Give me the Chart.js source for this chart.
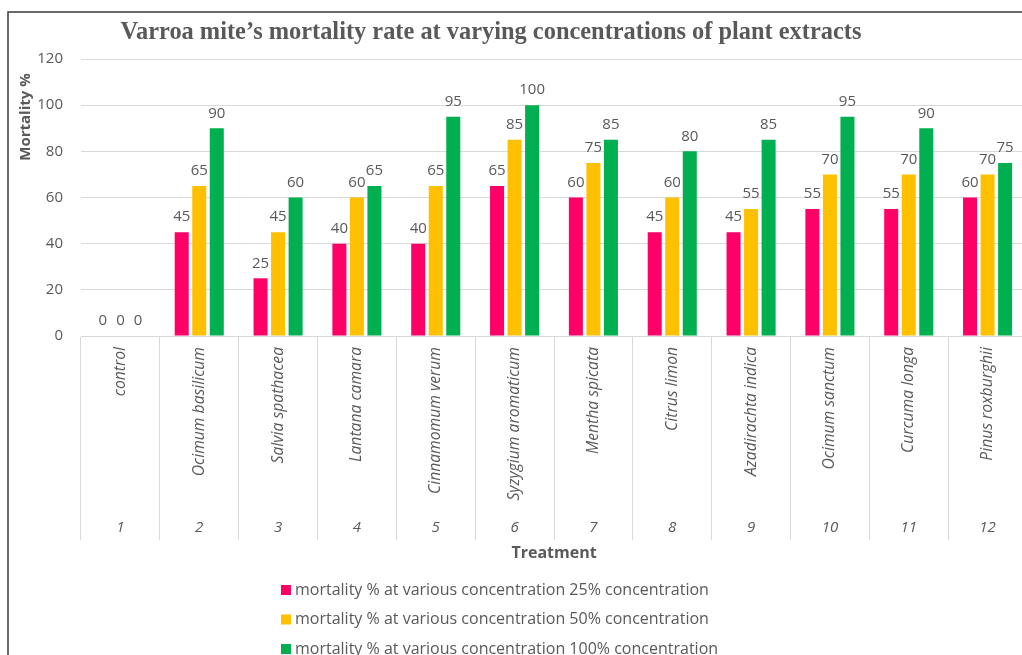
<!DOCTYPE html>
<html>
<head>
<meta charset="utf-8">
<script src="https://cdn.jsdelivr.net/npm/chart.js@4.4.1/dist/chart.umd.min.js"></script>
<style>
html,body{margin:0;padding:0;background:#fff;overflow:hidden;}
#wrap{position:relative;width:1027px;height:655px;}
canvas{display:block;}
</style>
</head>
<body>
<div id="wrap"><canvas id="c" width="1027" height="655" style="width:1027px;height:655px"></canvas></div>
<script>
const chartTitle = 'Varroa mite\u2019s mortality rate at varying concentrations of plant extracts';
const species = ['control','Ocimum basilicum','Salvia spathacea','Lantana camara','Cinnamomum verum','Syzygium aromaticum','Mentha spicata','Citrus limon','Azadirachta indica','Ocimum sanctum','Curcuma longa','Pinus roxburghii'];
const treatmentNumbers = ['1','2','3','4','5','6','7','8','9','10','11','12'];
const seriesNames = [
  'mortality % at various concentration 25% concentration',
  'mortality % at various concentration 50% concentration',
  'mortality % at various concentration 100% concentration'
];
const mortality25 = [0,45,25,40,40,65,60,45,45,55,55,60];
const mortality50 = [0,65,45,60,65,85,75,60,55,70,70,70];
const mortality100 = [0,90,60,65,95,100,85,80,85,95,90,75];
const seriesColors = ['#FF0066','#FFC000','#00B050'];
const yTitle = 'Mortality %';
const xTitle = 'Treatment';

const GRAY = '#595959';
const LINE = '#d9d9d9';
const FONT = '"Open Sans"';

const decorPlugin = {
  id: 'decor',
  beforeDraw(chart) {
    const ctx = chart.ctx;
    ctx.save();
    ctx.fillStyle = '#fff';
    ctx.fillRect(0, 0, chart.width, chart.height);
    ctx.strokeStyle = '#3a3a3a';
    ctx.lineWidth = 1.5;
    ctx.beginPath();
    ctx.moveTo(8, chart.height);
    ctx.lineTo(8, 12);
    ctx.lineTo(chart.width, 12);
    ctx.stroke();
    // chart title
    ctx.fillStyle = GRAY;
    ctx.font = 'bold 24.4px "Liberation Serif"';
    ctx.textAlign = 'center';
    ctx.textBaseline = 'middle';
    ctx.fillText(chartTitle, 491, 33);
    // y axis title
    ctx.save();
    ctx.translate(26, 117);
    ctx.rotate(-Math.PI / 2);
    ctx.font = 'bold 15px ' + FONT;
    ctx.fillText(yTitle, 0, 0);
    ctx.restore();
    ctx.restore();
  },
  afterDatasetsDraw(chart) {
    const ctx = chart.ctx;
    ctx.save();
    ctx.fillStyle = GRAY;
    ctx.font = '15px ' + FONT;
    ctx.textAlign = 'center';
    ctx.textBaseline = 'middle';
    chart.data.datasets.forEach((ds, di) => {
      const meta = chart.getDatasetMeta(di);
      meta.data.forEach((el, i) => {
        ctx.fillText(String(ds.data[i]), el.x, el.y - 15);
      });
    });
    ctx.restore();
  },
  afterDraw(chart) {
    const ctx = chart.ctx;
    ctx.save();
    ctx.font = '16px ' + FONT;
    ctx.textBaseline = 'middle';
    ctx.textAlign = 'left';
    chart.data.datasets.forEach((ds, di) => {
      const y = 590 + di * 29.5;
      ctx.fillStyle = ds.backgroundColor;
      ctx.fillRect(281, y - 5, 10, 10);
      ctx.fillStyle = GRAY;
      ctx.fillText(ds.label, 295, y);
    });
    ctx.restore();
  }
};

new Chart(document.getElementById('c'), {
  type: 'bar',
  data: {
    labels: species,
    datasets: [
      {label: seriesNames[0], data: mortality25, backgroundColor: seriesColors[0]},
      {label: seriesNames[1], data: mortality50, backgroundColor: seriesColors[1]},
      {label: seriesNames[2], data: mortality100, backgroundColor: seriesColors[2]}
    ]
  },
  options: {
    responsive: false,
    devicePixelRatio: 1,
    animation: false,
    categoryPercentage: 0.667,
    barPercentage: 0.8,
    layout: {padding: {left: 0, right: 0, top: 59, bottom: 80}},
    plugins: {legend: {display: false}, title: {display: false}, tooltip: {enabled: false}},
    scales: {
      x: {
        type: 'category',
        weight: 0,
        offset: true,
        grid: {display: true, drawOnChartArea: false, drawTicks: true, tickLength: 204, color: LINE, tickColor: LINE, offset: true},
        border: {display: true, color: LINE, width: 1},
        ticks: {autoSkip: false, minRotation: 90, maxRotation: 90, padding: -193, color: GRAY, font: {family: FONT, size: 15.7, style: 'italic'}},
        afterFit(scale) { scale.height = 180; }
      },
      x2: {
        type: 'category',
        position: 'bottom',
        weight: 1,
        offset: true,
        labels: treatmentNumbers,
        grid: {display: false, drawTicks: false},
        border: {display: false},
        ticks: {autoSkip: false, maxRotation: 0, minRotation: 0, padding: 3, color: GRAY, font: {family: FONT, size: 15, style: 'italic'}},
        title: {display: true, text: xTitle, color: GRAY, font: {family: FONT, size: 16, weight: 'bold'}, padding: {top: 0, bottom: 12}},
        afterFit(scale) { scale.height = 59; }
      },
      y: {
        min: 0, max: 120,
        ticks: {stepSize: 20, padding: 18, color: GRAY, font: {family: FONT, size: 15}},
        grid: {color: LINE, drawTicks: false},
        border: {display: false},
        title: {display: false, text: yTitle},
        afterFit(scale) { scale.width = 81; }
      }
    }
  },
  plugins: [decorPlugin]
});
</script>
</body>
</html>
